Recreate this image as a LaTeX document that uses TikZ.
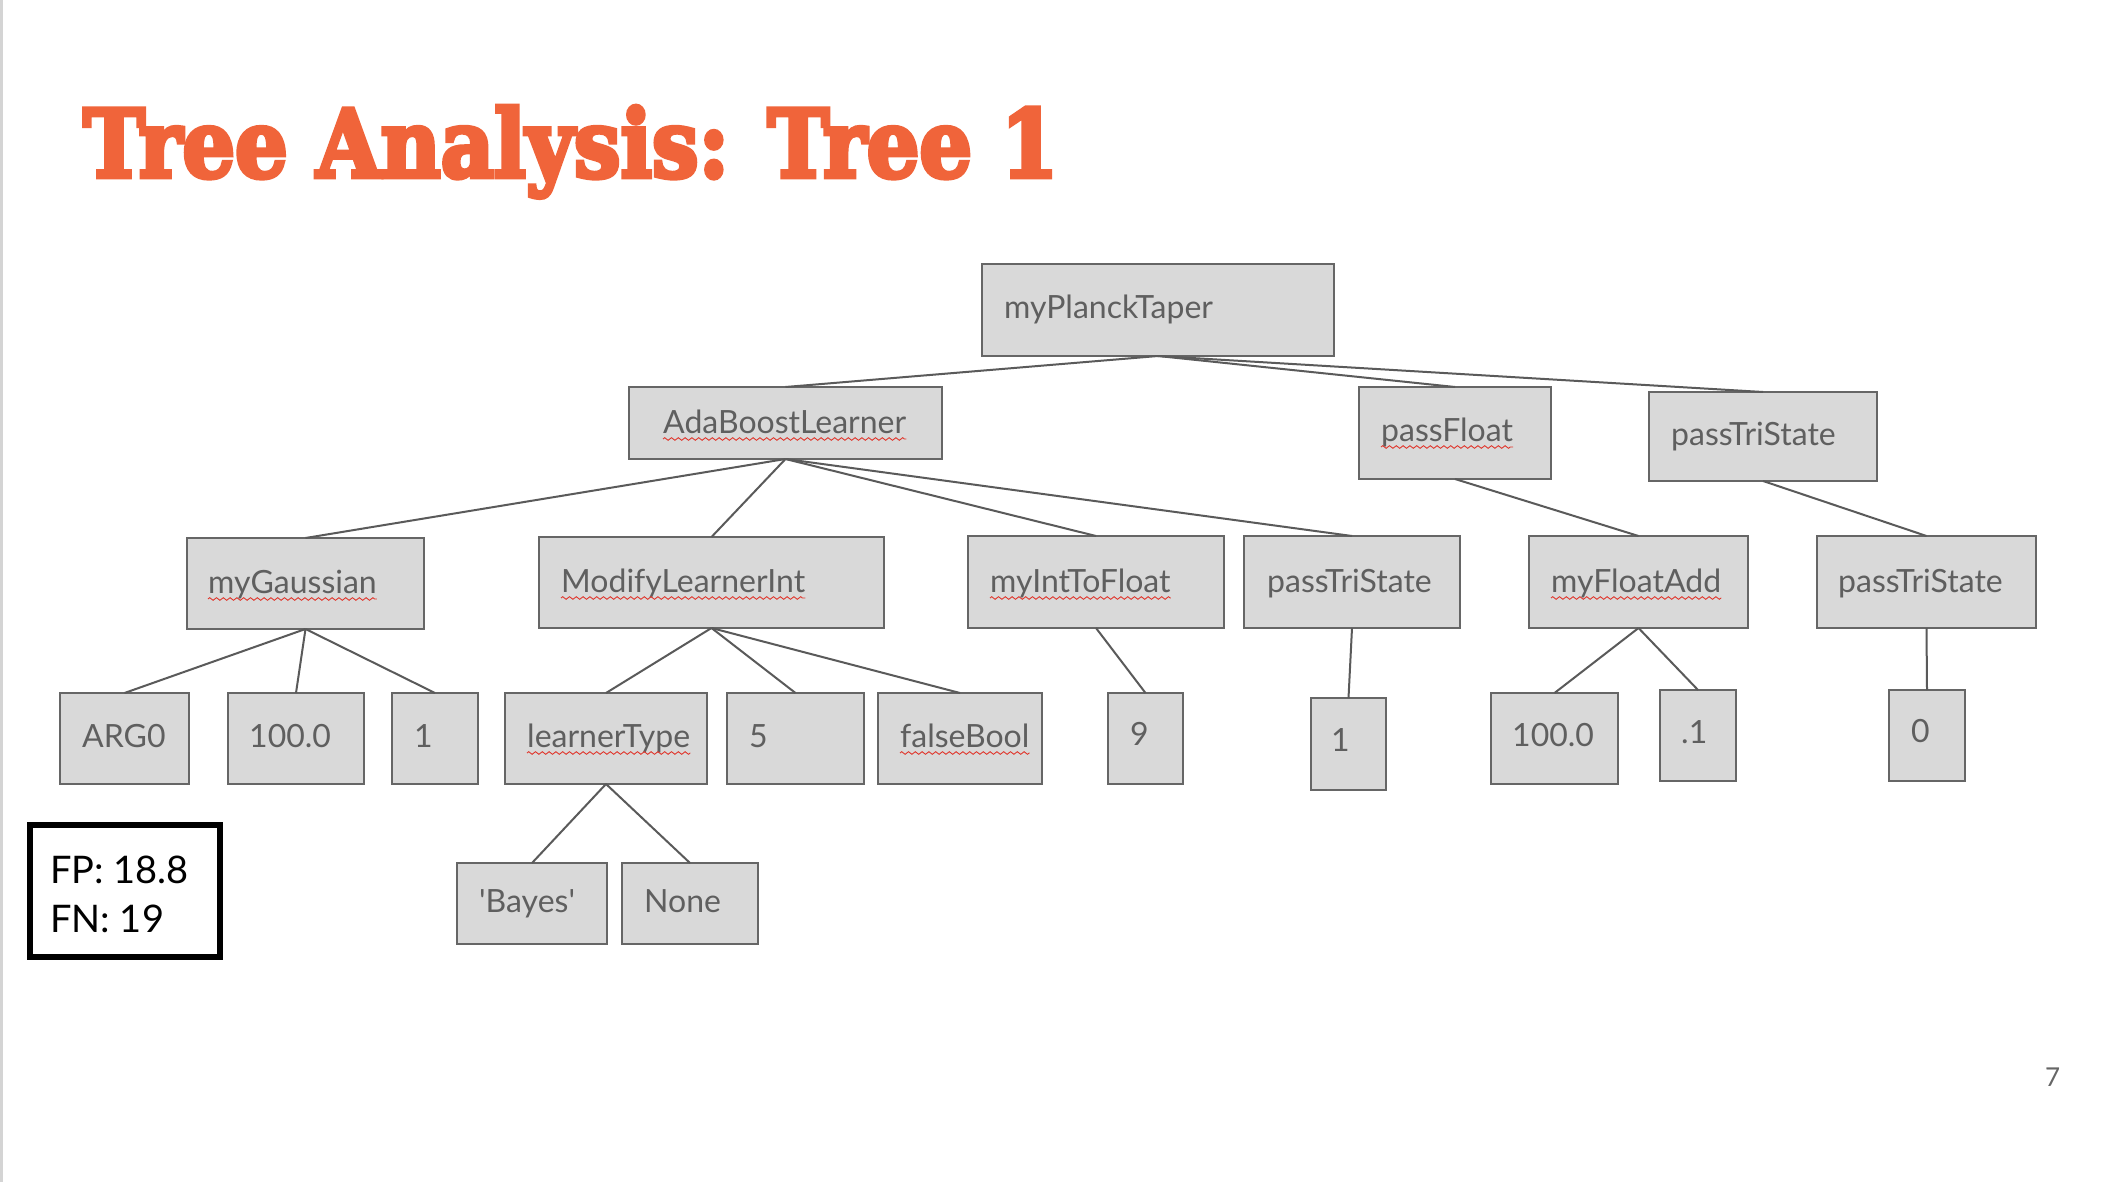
\documentclass[tikz,border=0pt]{standalone}
\usepackage{fontspec}
\usetikzlibrary{decorations.pathmorphing}
\newfontfamily\boxfont{Lato}
\newfontfamily\titlefont{DejaVu Serif}[BoldFeatures={FakeBold=5}]
\definecolor{boxfill}{HTML}{D9D9D9}
\definecolor{boxline}{HTML}{666666}
\definecolor{txtgray}{HTML}{5F5F5F}
\definecolor{edgegray}{HTML}{5A5A5A}
\definecolor{titleorange}{HTML}{F0643A}
\definecolor{squigred}{HTML}{E0362C}
\definecolor{slideedge}{HTML}{D4D4D4}
\tikzset{
  box/.style={draw=boxline, fill=boxfill, line width=2pt, rectangle, inner sep=0pt, outer sep=0pt},
  lbl/.style={font=\boxfont\fontsize{32}{38}\selectfont, text=txtgray, inner sep=0pt, anchor=base west},
  edge/.style={draw=edgegray, line width=2pt},
  squig/.style={draw=squigred, line width=0.9pt, decorate, decoration={zigzag, amplitude=1.3pt, segment length=6.8pt}},
}
\newcommand\bx[5]{\node[box, minimum width=#4-#2, minimum height=#5-#3] (#1) at ({(#2+#4)/2},{(#3+#5)/2}) {};}
\newcommand\tx[4]{\node[lbl] (t#1) at (#2,#3) {#4};}
\newcommand\sq[1]{\draw[squig] ([yshift=-6pt]t#1.base west) -- ([yshift=-6pt]t#1.base east);}
\begin{document}
\begin{tikzpicture}[x=1pt,y=-1pt]
\useasboundingbox (0,0) rectangle (2104,1182);
\fill[white] (0,0) rectangle (2104,1182);
\draw[slideedge, line width=3pt] (1.5,0) -- (1.5,1182);
% title
\node[inner sep=0pt, anchor=base west, text=titleorange] (title) at (83,177)
  {\resizebox{975pt}{71pt}{\titlefont\bfseries Tree Analysis: Tree 1}};
% boxes
\bx{root}{982}{264}{1334}{356}
\bx{ada}{629}{387}{942}{459}
\bx{pf}{1359}{387}{1551}{479}
\bx{pts}{1649}{392}{1877}{481}
\bx{gau}{187}{538}{424}{629}
\bx{mli}{539}{537}{884}{628}
\bx{itf}{968}{536}{1224}{628}
\bx{ptsa}{1244}{536}{1460}{628}
\bx{fadd}{1529}{536}{1748}{628}
\bx{ptsb}{1817}{536}{2036}{628}
\bx{arg}{60}{693}{189}{784}
\bx{hund}{228}{693}{364}{784}
\bx{one}{392}{693}{478}{784}
\bx{lt}{505}{693}{707}{784}
\bx{five}{727}{693}{864}{784}
\bx{fb}{878}{693}{1042}{784}
\bx{nine}{1108}{693}{1183}{784}
\bx{oneb}{1311}{698}{1386}{790}
\bx{hundb}{1491}{693}{1618}{784}
\bx{pt1}{1660}{690}{1736}{781}
\bx{zero}{1889}{690}{1965}{781}
\bx{bay}{457}{863}{607}{944}
\bx{none}{622}{863}{758}{944}
% labels
\tx{root}{1004}{319}{myPlanckTaper}
\tx{ada}{663}{433}{AdaBoostLearner}
\tx{pf}{1381}{441}{passFloat}
\tx{pts}{1671}{445}{passTriState}
\tx{gau}{208}{593}{myGaussian}
\tx{mli}{561}{592}{ModifyLearnerInt}
\tx{itf}{990}{592}{myIntToFloat}
\tx{ptsa}{1267}{592}{passTriState}
\tx{fadd}{1551}{592}{myFloatAdd}
\tx{ptsb}{1838}{592}{passTriState}
\tx{arg}{82}{747}{ARG0}
\tx{hund}{249}{747}{100.0}
\tx{one}{414}{747}{1}
\tx{lt}{527}{747}{learnerType}
\tx{five}{749}{747}{5}
\tx{fb}{900}{747}{falseBool}
\tx{nine}{1130}{745}{9}
\tx{oneb}{1331}{751}{1}
\tx{hundb}{1512}{746}{100.0}
\tx{pt1}{1681}{743}{.1}
\tx{zero}{1911}{742}{0}
\tx{bay}{479}{912}{'Bayes'}
\tx{none}{644}{912}{None}
% spell-check squiggles
\sq{ada}\sq{pf}\sq{gau}\sq{mli}\sq{itf}\sq{fadd}\sq{lt}\sq{fb}
% edges
\draw[edge] (root.south) -- (ada.north);
\draw[edge] (root.south) -- (pf.north);
\draw[edge] (root.south) -- (pts.north);
\draw[edge] (ada.south) -- (gau.north);
\draw[edge] (ada.south) -- (mli.north);
\draw[edge] (ada.south) -- (itf.north);
\draw[edge] (ada.south) -- (ptsa.north);
\draw[edge] (pf.south) -- (fadd.north);
\draw[edge] (pts.south) -- (ptsb.north);
\draw[edge] (gau.south) -- (arg.north);
\draw[edge] (gau.south) -- (hund.north);
\draw[edge] (gau.south) -- (one.north);
\draw[edge] (mli.south) -- (lt.north);
\draw[edge] (mli.south) -- (five.north);
\draw[edge] (mli.south) -- (fb.north);
\draw[edge] (itf.south) -- (nine.north);
\draw[edge] (ptsa.south) -- (oneb.north);
\draw[edge] (fadd.south) -- (hundb.north);
\draw[edge] (fadd.south) -- (pt1.north);
\draw[edge] (ptsb.south) -- (zero.north);
\draw[edge] (lt.south) -- (bay.north);
\draw[edge] (lt.south) -- (none.north);
% score box
\node[draw=black, fill=white, line width=6pt, minimum width=190pt, minimum height=132pt, inner sep=0pt] (score) at (125,891) {};
\node[inner sep=0pt, anchor=base west, font=\boxfont\fontsize{38}{44}\selectfont, text=black] (fp) at (50,883) {FP: 18.8};
\node[inner sep=0pt, anchor=base west, font=\boxfont\fontsize{38}{44}\selectfont, text=black] (fn) at (50,932) {FN: 19};
% page number
\node[inner sep=0pt, anchor=base west, font=\boxfont\fontsize{26}{30}\selectfont, text=boxline] (pg) at (2045,1086) {7};
\end{tikzpicture}
\end{document}
